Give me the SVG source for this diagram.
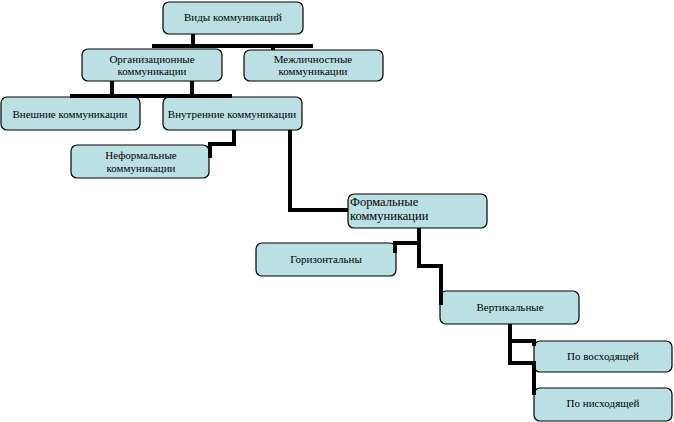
<svg xmlns="http://www.w3.org/2000/svg" width="674" height="422" viewBox="0 0 674 422">
<style>
.box{fill:#bbe0e3;stroke:#000;stroke-width:1.2}
.t{font-family:'Liberation Serif','DejaVu Serif',serif;font-size:11px;fill:#000;text-anchor:middle}
.tl{font-family:'Liberation Serif','DejaVu Serif',serif;font-size:12.5px;fill:#000}
.c{fill:none;stroke:#000;stroke-width:4;stroke-linejoin:miter;stroke-linecap:butt}
</style>
<rect width="674" height="422" fill="#fff"/>
<g id="n-vidy"><rect class="box" x="163" y="2" width="140" height="32" rx="6"/><text class="t" x="233" y="21">Виды коммуникаций</text></g>
<g id="n-org"><rect class="box" x="82" y="49" width="140" height="32" rx="6"/><text class="t" x="152" y="63">Организационные</text><text class="t" x="152" y="75">коммуникации</text></g>
<g id="n-mezh"><rect class="box" x="244" y="50" width="139" height="31" rx="6"/><text class="t" x="313" y="63">Межличностные</text><text class="t" x="313" y="75">коммуникации</text></g>
<g id="n-vnesh"><rect class="box" x="1" y="97" width="139" height="33" rx="6"/><text class="t" x="70" y="118">Внешние коммуникации</text></g>
<g id="n-vnutr"><rect class="box" x="163" y="97" width="139" height="33" rx="6"/><text class="t" x="232" y="118">Внутренние коммуникации</text></g>
<g id="n-neform"><rect class="box" x="71" y="145" width="138" height="33" rx="6"/><text class="t" x="141" y="159">Неформальные</text><text class="t" x="141" y="172">коммуникации</text></g>
<g id="n-form"><rect class="box" x="348" y="194" width="139" height="34" rx="6"/><text class="tl" x="350" y="206">Формальные</text><text class="tl" x="350" y="220">коммуникации</text></g>
<g id="n-goriz"><rect class="box" x="256" y="243" width="140" height="33" rx="6"/><text class="t" x="326" y="263">Горизонтальны</text></g>
<g id="n-vert"><rect class="box" x="440" y="291" width="139" height="33" rx="6"/><text class="t" x="510" y="311">Вертикальные</text></g>
<g id="n-vosh"><rect class="box" x="534" y="341" width="138" height="31" rx="6"/><text class="t" x="603" y="360">По восходящей</text></g>
<g id="n-nish"><rect class="box" x="534" y="388" width="138" height="33" rx="6"/><text class="t" x="603" y="407">По нисходящей</text></g>
<g id="connectors">
<path class="c" d="M193,34 V46 M152,46 H313 M273,46 V50"/>
<path class="c" d="M112,81 V96 M192,81 V96 M70,96 H232"/>
<path class="c" d="M234,130 V144 H210 V158"/>
<path class="c" d="M290,130 V210 H348"/>
<path class="c" d="M419,228 V266 H441 V305"/>
<path class="c" d="M419,243 H395 V253"/>
<path class="c" d="M510,324 V363 H534 V395 M510,341 H534 V346"/>
</g>
</svg>
